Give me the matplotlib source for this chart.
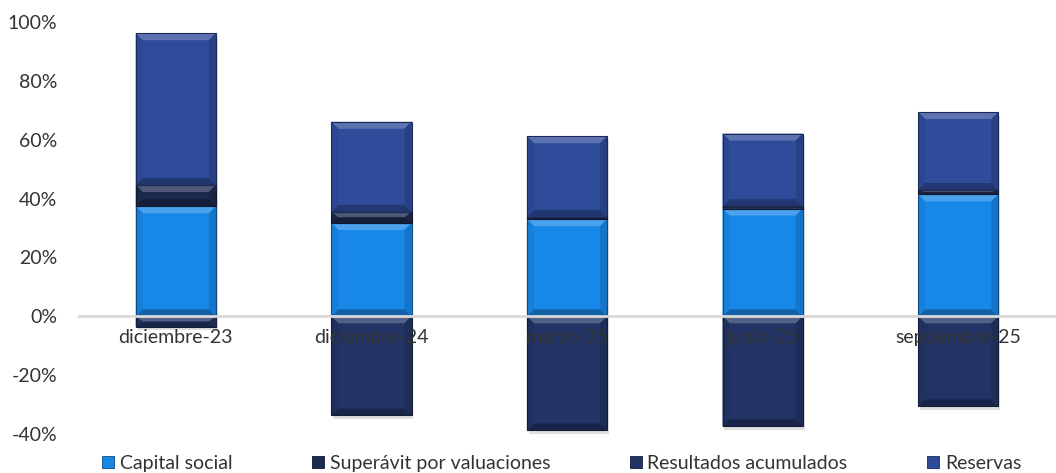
import numpy as np
import matplotlib.pyplot as plt
from matplotlib.patches import Polygon, Rectangle
from matplotlib.colors import to_rgb

categories = ["diciembre-23", "diciembre-24", "marzo-25", "junio-25", "septiembre-25"]
capital_social = [37.4, 31.7, 33.0, 36.6, 41.4]
superavit = [7.2, 3.8, 0.8, 0.8, 1.5]
resultados = [-3.6, -33.7, -38.8, -37.4, -30.6]
reservas = [51.6, 30.6, 27.4, 24.7, 26.5]
series_names = ["Capital social", "Superávit por valuaciones", "Resultados acumulados", "Reservas"]
colors = ["#1787E8", "#1D2A4F", "#223465", "#2F4C9B"]
yticks = [-40, -20, 0, 20, 40, 60, 80, 100]

plt.rcParams['font.family'] = ['Lato', 'DejaVu Sans']
text_color = "#333333"


def shade(color, f):
    r, g, b = to_rgb(color)
    if f > 0:
        return (r + (1 - r) * f, g + (1 - g) * f, b + (1 - b) * f)
    return (r * (1 + f), g * (1 + f), b * (1 + f))


def bevel(ax, patch, color, px=7):
    # fake the excel bevel look with four trapezoids round the bar
    x0, y0 = patch.get_x(), patch.get_y()
    w, h = patch.get_width(), patch.get_height()
    if h < 0:
        y0, h = y0 + h, -h
    if h == 0:
        return
    inv = ax.transData.inverted()
    p0 = inv.transform((0, 0))
    p1 = inv.transform((px, px))
    dx = p1[0] - p0[0]
    dy = min(p1[1] - p0[1], h / 2.0)
    x1, y1 = x0 + w, y0 + h
    parts = [
        ([(x0, y1), (x1, y1), (x1 - dx, y1 - dy), (x0 + dx, y1 - dy)], 0.22),
        ([(x0, y0), (x1, y0), (x1 - dx, y0 + dy), (x0 + dx, y0 + dy)], -0.28),
        ([(x0, y0), (x0, y1), (x0 + dx, y1 - dy), (x0 + dx, y0 + dy)], -0.06),
        ([(x1, y0), (x1, y1), (x1 - dx, y1 - dy), (x1 - dx, y0 + dy)], -0.14),
    ]
    for pts, f in parts:
        ax.add_patch(Polygon(pts, closed=True, facecolor=shade(color, f),
                             edgecolor='none', zorder=patch.get_zorder() + 0.1))
    ax.add_patch(Rectangle((x0, y0), w, h, facecolor='none',
                           edgecolor=shade(color, -0.45), linewidth=0.8,
                           zorder=patch.get_zorder() + 0.2))


fig = plt.figure(figsize=(10.56, 4.73), dpi=100)
ax = fig.add_axes([0.0739, 0.0824, 0.9261, 0.8711])

x = np.arange(len(categories))
width = 0.41
pos_base = np.zeros(len(categories))
neg_base = np.zeros(len(categories))
all_bars = []
for name, vals, col in zip(series_names, [capital_social, superavit, resultados, reservas], colors):
    vals = np.array(vals, dtype=float)
    base = np.where(vals >= 0, pos_base, neg_base)
    bars = ax.bar(x, vals, width, bottom=base, color=col, label=name, zorder=3)
    all_bars.append((bars, col))
    pos_base += np.where(vals >= 0, vals, 0)
    neg_base += np.where(vals < 0, vals, 0)

ax.set_xlim(-0.5, len(categories) - 0.5)
ax.set_ylim(-40, 100)

# drop shadows under each full stack
for i in range(len(categories)):
    ax.add_patch(Rectangle((x[i] - width / 2 + 0.01, neg_base[i] - 1.2), width, pos_base[i] - neg_base[i],
                           facecolor='#000000', alpha=0.12, edgecolor='none', zorder=2))

for bars, col in all_bars:
    for p in bars:
        bevel(ax, p, col)

ax.axhline(0, color='#D9D9D9', linewidth=2, zorder=4)

for s in ax.spines.values():
    s.set_visible(False)
ax.set_yticks(yticks)
ax.set_yticklabels([f"{v}%" for v in yticks], fontsize=14, color=text_color)
ax.tick_params(axis='y', length=0, pad=15)
ax.set_xticks([])

for i, c in enumerate(categories):
    ax.annotate(c, (x[i], 0), xytext=(0, -13), textcoords='offset pixels',
                ha='center', va='top', fontsize=14, color=text_color, zorder=5)

handles = [Rectangle((0, 0), 1, 1, facecolor=c, edgecolor=shade(c, -0.45), linewidth=0.6) for c in colors]
fig.legend(handles, series_names, loc='lower center', bbox_to_anchor=(0.532, -0.035), ncol=4,
           frameon=False, fontsize=14, labelcolor=text_color, handlelength=0.6, handleheight=0.6,
           handletextpad=0.3, columnspacing=4.1)

fig.savefig("out.png", dpi=100)
